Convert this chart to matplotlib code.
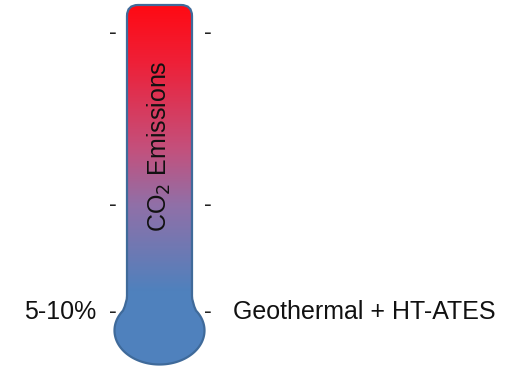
import numpy as np
import matplotlib.pyplot as plt
from matplotlib.path import Path
from matplotlib.patches import PathPatch
from matplotlib.colors import LinearSegmentedColormap

plt.rcParams['font.family'] = ['Liberation Sans', 'DejaVu Sans']

# scale levels (pixel rows of the reference) and their labels
levels = [33, 205, 312]
left_labels = ["", "", "5-10%"]
right_labels = ["", "", "Geothermal + HT-ATES"]
title = "CO$_2$ Emissions"

fig = plt.figure(figsize=(5.06, 3.66), dpi=100)
ax = fig.add_axes([0, 0, 1, 1])
ax.set_xlim(0, 506)
ax.set_ylim(366, 0)
ax.axis('off')

# thermometer outline
xl, xr, yt, r = 127, 192, 5, 11
neck = 296
cx, cy, a, b = 159.5, 330.5, 45, 34
c = (xr + 4 - cx) / a
t = np.linspace(-np.arccos(c), np.pi + np.arccos(c), 120)
ex, ey = cx + a * np.cos(t), cy + b * np.sin(t)

verts = [(xl, yt + r), (xl, yt), (xl + r, yt), (xr - r, yt), (xr, yt), (xr, yt + r),
         (xr, neck), (xr, neck + 6), (ex[0], ey[0])]
codes = [Path.MOVETO, Path.CURVE3, Path.CURVE3, Path.LINETO, Path.CURVE3, Path.CURVE3,
         Path.LINETO, Path.CURVE3, Path.CURVE3]
for px, py in zip(ex[1:], ey[1:]):
    verts.append((px, py))
    codes.append(Path.LINETO)
verts += [(xl, neck + 6), (xl, neck), (xl, yt + r)]
codes += [Path.CURVE3, Path.CURVE3, Path.CLOSEPOLY]
path = Path(verts, codes)

cmap = LinearSegmentedColormap.from_list(
    'thermo', [(0, '#FF0A14'), (0.2, '#EE2038'), (0.5, '#C4507C'),
               (0.7, '#9070A8'), (1, '#4F81BD')])
grad = np.linspace(0, 1, 300).reshape(-1, 1)
clip = PathPatch(path, facecolor='none', edgecolor='none')
ax.add_patch(clip)
bulb = PathPatch(path, facecolor='#4F81BD', edgecolor='none', zorder=0.5)
ax.add_patch(bulb)
im = ax.imshow(grad, cmap=cmap, extent=(xl - 40, xr + 40, 292, yt), aspect='auto', zorder=1)
im.set_clip_path(clip)
ax.add_patch(PathPatch(path, facecolor='none', edgecolor='#3F6A9A', lw=1.6, zorder=3))

for y, ll, rl in zip(levels, left_labels, right_labels):
    ax.text(113, y, "-", ha='center', va='center', fontsize=17, color='#222222')
    ax.text(208, y, "-", ha='center', va='center', fontsize=17, color='#222222')
    if ll:
        ax.text(96, y, ll, ha='right', va='center', fontsize=18, color='#111111')
    if rl:
        ax.text(233, y, rl, ha='left', va='center', fontsize=18, color='#111111')

ax.text(159, 146, title, rotation=90, ha='center', va='center', fontsize=18, color='#111111', zorder=4)

fig.savefig('out.png', dpi=100, facecolor='white')
